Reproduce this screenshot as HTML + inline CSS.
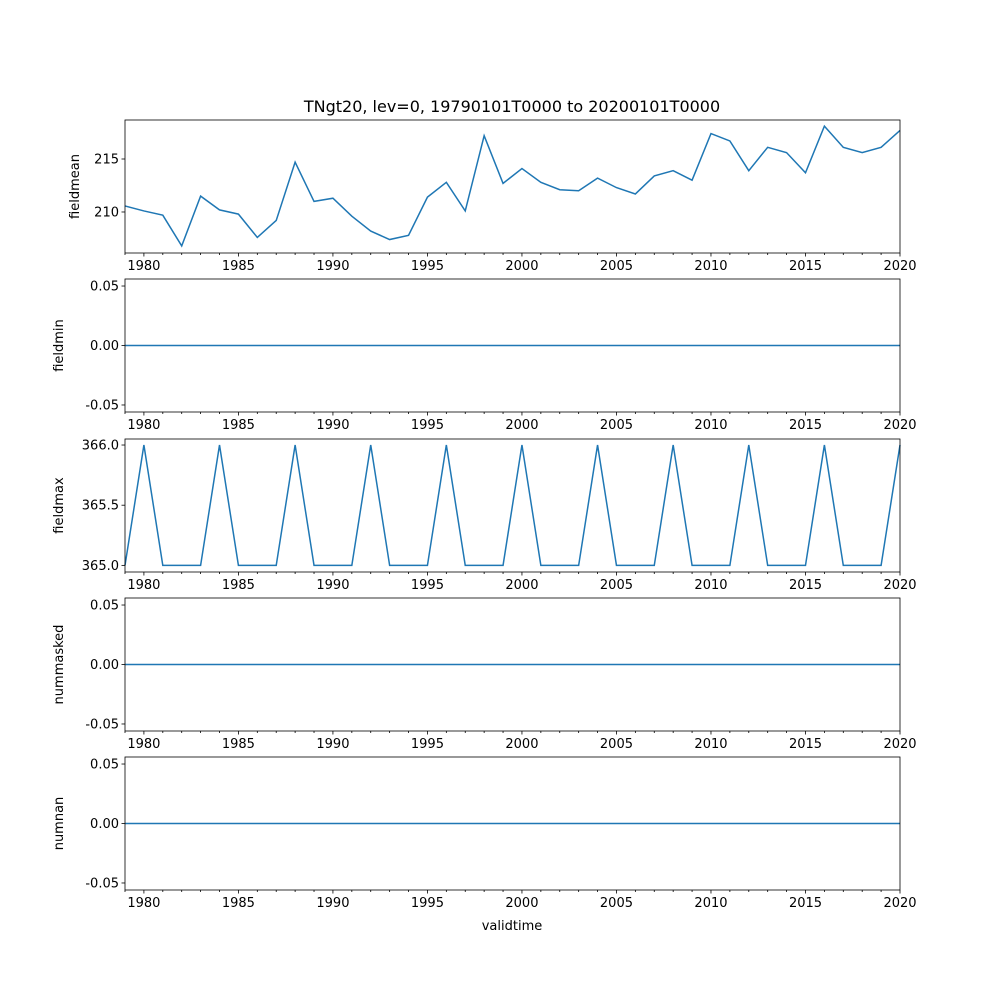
<!DOCTYPE html>
<html><head><meta charset="utf-8"><style>
body{margin:0;background:#fff;}
svg{display:block;font-family:"DejaVu Sans","Liberation Sans",sans-serif;}
</style></head><body>
<svg id="fig" width="1000" height="1000" xmlns="http://www.w3.org/2000/svg">
<rect width="1000" height="1000" fill="#fff"/>
<text x="512" y="112" font-size="16" text-anchor="middle">TNgt20, lev=0, 19790101T0000 to 20200101T0000</text>
<text x="512" y="930" font-size="13" text-anchor="middle">validtime</text>
</svg>
<script>
const years = [];
for (let y = 1979; y <= 2020; y++) years.push(y);
const fieldmean = [210.57,210.1,209.7,206.8,211.5,210.2,209.8,207.6,209.2,214.7,211.0,211.3,209.6,208.2,207.4,207.8,211.4,212.8,210.1,217.2,212.7,214.1,212.8,212.1,212.0,213.2,212.3,211.7,213.4,213.9,213.0,217.4,216.7,213.9,216.1,215.6,213.7,218.1,216.1,215.6,216.1,217.7];
const fieldmin = years.map(() => 0);
const fieldmax = [365,366,365,365,365,366,365,365,365,366,365,365,365,366,365,365,365,366,365,365,365,366,365,365,365,366,365,365,365,366,365,365,365,366,365,365,365,366,365,365,365,366];
const nummasked = years.map(() => 0);
const numnan = years.map(() => 0);
const xTicks = [1980,1985,1990,1995,2000,2005,2010,2015,2020];

const NS = "http://www.w3.org/2000/svg";
const svg = document.getElementById('fig');
const L = 125, R = 900;
const xs = v => L + (v - 1979) / (2020 - 1979) * (R - L);
function mk(tag, attrs, parent) {
  const e = document.createElementNS(NS, tag);
  for (const k in attrs) e.setAttribute(k, attrs[k]);
  (parent || svg).appendChild(e);
  return e;
}
const panels = [
  {name:'fieldmean', data:fieldmean, top:120, bot:253, min:206.13, max:218.68, ticks:[210,215], fmt:v=>String(v)},
  {name:'fieldmin', data:fieldmin, top:279, bot:412, min:-0.0559, max:0.0559, ticks:[-0.05,0,0.05], fmt:v=>v.toFixed(2)},
  {name:'fieldmax', data:fieldmax, top:439, bot:572, min:364.945, max:366.05, ticks:[365,365.5,366], fmt:v=>v.toFixed(1)},
  {name:'nummasked', data:nummasked, top:598, bot:731, min:-0.0559, max:0.0559, ticks:[-0.05,0,0.05], fmt:v=>v.toFixed(2)},
  {name:'numnan', data:numnan, top:757, bot:890, min:-0.0559, max:0.0559, ticks:[-0.05,0,0.05], fmt:v=>v.toFixed(2)}
];
panels.forEach(p => {
  const g = mk('g', {});
  
  
  const ys = v => p.bot - (v - p.min) / (p.max - p.min) * (p.bot - p.top);
  const pts = p.data.map((v, i) => xs(years[i]).toFixed(2) + ',' + ys(v).toFixed(2)).join(' ');
  const line = mk('polyline', {points:pts, fill:'none', stroke:'#1f77b4', 'stroke-width':1.5}, g);
  
  
  const frame = mk('rect', {x:L, y:p.top, width:R-L, height:p.bot-p.top, fill:'none', stroke:'#000', 'stroke-width':0.8}, g);
  
  
  years.forEach(y => {
    const major = xTicks.includes(y);
    mk('line', {x1:xs(y), x2:xs(y), y1:p.bot, y2:p.bot + (major ? 3.5 : 2), stroke:'#000', 'stroke-width':0.8}, g);
  });
  xTicks.forEach(t => {
    const tx = mk('text', {x:xs(t), y:p.bot + 17, 'font-size':13, 'text-anchor':'middle'}, g);
    tx.textContent = t;
    
    
  });
  p.ticks.forEach(t => {
    const y = ys(t);
    mk('line', {x1:L - 3.5, x2:L, y1:y, y2:y, stroke:'#000', 'stroke-width':0.8}, g);
    const tx = mk('text', {x:L - 6, y:y + 4.5, 'font-size':13, 'text-anchor':'end'}, g);
    tx.textContent = p.fmt(t);
    
    
  });
  const labelX = p.name === 'fieldmean' ? 79 : 63;
  const cy = (p.top + p.bot) / 2;
  const yl = mk('text', {x:labelX, y:cy, 'font-size':13, 'text-anchor':'middle', transform:`rotate(-90 ${labelX} ${cy})`}, g);
  yl.textContent = p.name;
  
  
});
</script>
</body></html>
